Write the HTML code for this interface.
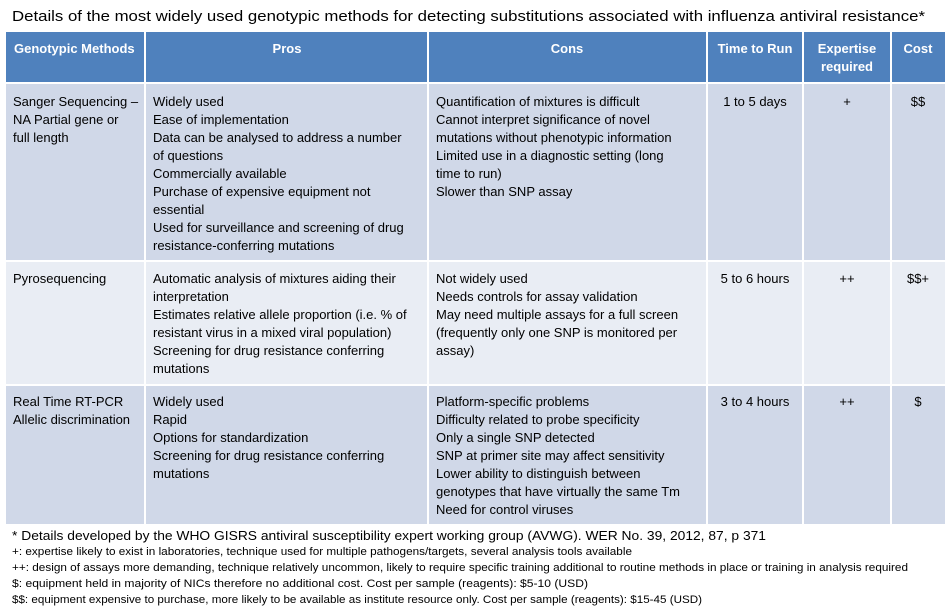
<!DOCTYPE html>
<html><head><meta charset="utf-8"><style>
html,body{margin:0;padding:0;background:#fff;}
svg{display:block;}
text{font-family:"Liberation Sans",sans-serif;}
.c{font-size:13px;fill:#000;}
.h{font-size:13px;fill:#fff;font-weight:bold;}
.f{font-size:11px;fill:#000;}
</style></head><body>
<svg width="951" height="614" xmlns="http://www.w3.org/2000/svg">
<rect width="951" height="614" fill="#fff"/>
<text x="12" y="21" font-size="14.5" textLength="913" lengthAdjust="spacingAndGlyphs">Details of the most widely used genotypic methods for detecting substitutions associated with influenza antiviral resistance*</text>
<rect x="6" y="32" width="939" height="50" fill="#4f81bd"/>
<rect x="6" y="84" width="939" height="176" fill="#d0d8e8"/>
<rect x="6" y="262" width="939" height="122" fill="#e9edf4"/>
<rect x="6" y="386" width="939" height="138" fill="#d0d8e8"/>
<g stroke="#fff" stroke-width="2">
<line x1="145" y1="32" x2="145" y2="524"/>
<line x1="428" y1="32" x2="428" y2="524"/>
<line x1="707" y1="32" x2="707" y2="524"/>
<line x1="803" y1="32" x2="803" y2="524"/>
<line x1="891" y1="32" x2="891" y2="524"/>
</g>
<text class="h" x="14" y="53">Genotypic Methods</text>
<text class="h" x="287" y="53" text-anchor="middle">Pros</text>
<text class="h" x="567" y="53" text-anchor="middle">Cons</text>
<text class="h" x="755" y="53" text-anchor="middle">Time to Run</text>
<text class="h" x="847" y="53" text-anchor="middle">Expertise</text>
<text class="h" x="847" y="71" text-anchor="middle">required</text>
<text class="h" x="918" y="53" text-anchor="middle">Cost</text>
<g class="c">
<text x="13" y="106">Sanger Sequencing –</text>
<text x="13" y="124">NA Partial gene or</text>
<text x="13" y="142">full length</text>
<text x="153" y="106">Widely used</text>
<text x="153" y="124">Ease of implementation</text>
<text x="153" y="142">Data can be analysed to address  a number</text>
<text x="153" y="160">of questions</text>
<text x="153" y="178">Commercially available</text>
<text x="153" y="196">Purchase of expensive equipment not</text>
<text x="153" y="214">essential</text>
<text x="153" y="232">Used for surveillance and screening of drug</text>
<text x="153" y="250">resistance-conferring mutations</text>
<text x="436" y="106">Quantification of mixtures is difficult</text>
<text x="436" y="124">Cannot interpret significance of novel</text>
<text x="436" y="142">mutations without phenotypic information</text>
<text x="436" y="160">Limited use in a diagnostic setting (long</text>
<text x="436" y="178">time to run)</text>
<text x="436" y="196">Slower than SNP assay</text>
<text x="755" y="106" text-anchor="middle">1 to 5 days</text>
<text x="847" y="106" text-anchor="middle">+</text>
<text x="918" y="106" text-anchor="middle">$$</text>
<text x="13" y="283">Pyrosequencing</text>
<text x="153" y="283">Automatic analysis of mixtures aiding their</text>
<text x="153" y="301">interpretation</text>
<text x="153" y="319">Estimates relative allele proportion (i.e. % of</text>
<text x="153" y="337">resistant virus in a mixed viral population)</text>
<text x="153" y="355">Screening for drug resistance conferring</text>
<text x="153" y="373">mutations</text>
<text x="436" y="283">Not widely used</text>
<text x="436" y="301">Needs controls for assay validation</text>
<text x="436" y="319">May need multiple assays for a full screen</text>
<text x="436" y="337">(frequently only one SNP is monitored per</text>
<text x="436" y="355">assay)</text>
<text x="755" y="283" text-anchor="middle">5 to 6 hours</text>
<text x="847" y="283" text-anchor="middle">++</text>
<text x="918" y="283" text-anchor="middle">$$+</text>
<text x="13" y="406">Real Time RT-PCR</text>
<text x="13" y="424">Allelic discrimination</text>
<text x="153" y="406">Widely used</text>
<text x="153" y="424">Rapid</text>
<text x="153" y="442">Options for standardization</text>
<text x="153" y="460">Screening for drug resistance conferring</text>
<text x="153" y="478">mutations</text>
<text x="436" y="406">Platform-specific problems</text>
<text x="436" y="424">Difficulty related to probe specificity</text>
<text x="436" y="442">Only a single SNP detected</text>
<text x="436" y="460">SNP at primer site may affect sensitivity</text>
<text x="436" y="478">Lower ability to distinguish between</text>
<text x="436" y="496">genotypes that have virtually the same Tm</text>
<text x="436" y="514">Need for control viruses</text>
<text x="755" y="406" text-anchor="middle">3 to 4 hours</text>
<text x="847" y="406" text-anchor="middle">++</text>
<text x="918" y="406" text-anchor="middle">$</text>
</g>
<text x="12" y="540" font-size="12.5" textLength="754" lengthAdjust="spacingAndGlyphs">*  Details developed by the WHO GISRS antiviral susceptibility expert working group (AVWG). WER No. 39, 2012,  87, p 371</text>
<text class="f" x="12" y="555" textLength="620" lengthAdjust="spacingAndGlyphs">+: expertise likely to exist in laboratories, technique used for multiple pathogens/targets, several analysis tools available</text>
<text class="f" x="12" y="571" textLength="896" lengthAdjust="spacingAndGlyphs">++: design of assays more demanding, technique relatively uncommon, likely to require specific training additional to routine methods in place or training in analysis required</text>
<text class="f" x="12" y="587" textLength="576" lengthAdjust="spacingAndGlyphs">$: equipment held in majority of NICs therefore no additional cost. Cost per sample (reagents): $5-10 (USD)</text>
<text class="f" x="12" y="603" textLength="690" lengthAdjust="spacingAndGlyphs">$$: equipment expensive to purchase, more likely to be available as institute resource only. Cost per sample (reagents): $15-45 (USD)</text>
</svg>
</body></html>
